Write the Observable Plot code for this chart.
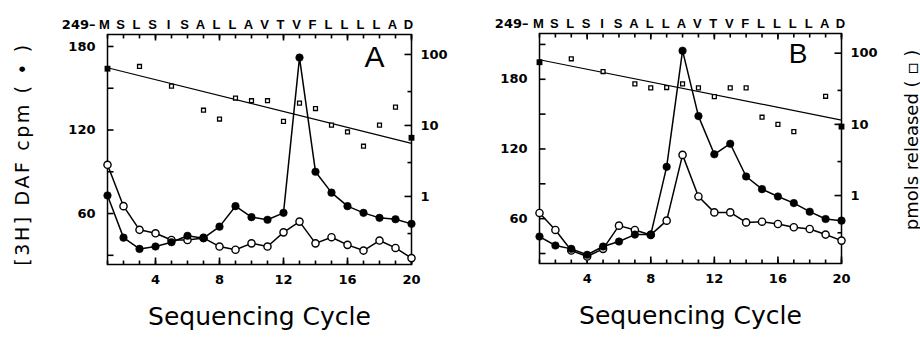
<!DOCTYPE html>
<html><head><meta charset="utf-8">
<script src="https://cdn.jsdelivr.net/npm/d3@7"></script>
<script src="https://cdn.jsdelivr.net/npm/@observablehq/plot@0.6"></script>
<style>
body{margin:0;background:#fff;}
#wrap{position:relative;width:920px;height:345px;overflow:hidden;background:#fff;}
#wrap svg{position:absolute;left:0;top:0;}
.ytitle{position:absolute;white-space:nowrap;transform:translate(-50%,-50%) rotate(-90deg);font-family:"DejaVu Sans";font-size:18px;color:#000;}
g[aria-label="seqstart"] text{letter-spacing:2px;}
g[aria-label="xtitle"] text{letter-spacing:1px;}
</style></head><body><div id="wrap"></div>
<script>
// ---- data ----
const cycles = [1,2,3,4,5,6,7,8,9,10,11,12,13,14,15,16,17,18,19,20];
const sequence = ["M","S","L","S","I","S","A","L","L","A","V","T","V","F","L","L","L","L","A","D"];
const seqStart = "249–";
const xMajorTicks = [4,8,12,16,20];
const leftTicks = [30,60,90,120,150,180,210];
const leftLabels = [60,120,180];
const rightTicks = [1,10,100];
const rightMinorTicks = [0.3,3,30];
const xTitle = "Sequencing Cycle";
const leftTitle = "[3H] DAF cpm ( • )";
const rightTitle = "pmols released ( ▫ )";

// Panel A
const cpmA_filled = [73,42.7,34.6,36.3,39.4,44,42.3,50.6,65.3,57.4,55.5,60.5,172,90,75,65.3,60.5,56.9,55.9,52.6];
const cpmA_open   = [95,65.3,48.3,45.8,41,41,42.5,36.3,34,38.6,36.3,46.5,54.2,38.6,43,37.5,33.4,40.6,35.3,28];
const pmolA_cycles = [3,5,7,8,9,10,11,12,13,14,15,16,17,18,19];
const pmolA = [67.8,35.8,16.4,12.3,24.3,22.3,22.3,11.4,20.6,17.3,10.1,8.1,5.1,10.1,18.1];
const pmolA_endCycles = [1,20];
const pmolA_end = [63,6.7];
const fitA_cycles = [1,20];
const fitA = [65,5.6];

// Panel B
const cpmB_filled = [44.6,36.9,34,28.9,36,40.3,46.3,46.3,104.6,204.6,148.3,115.4,124.5,96.3,85.4,79.1,73.4,66,59.7,58.3];
const cpmB_open   = [64.9,50.3,32.6,27.4,34,54,50.3,46,58.3,114.9,79.1,65.4,65.4,56.8,57.4,55.4,52.6,51.1,46.3,41.1];
const pmolB_cycles = [3,5,7,8,9,10,11,12,13,14,15,16,17,19];
const pmolB = [83.4,55.2,37.1,32.6,32.9,37.1,32.6,24.5,32.6,32.6,12.6,10,7.9,24.8];
const pmolB_endCycles = [1,20];
const pmolB_end = [74.6,9.3];
const fitB_cycles = [1,20];
const fitB = [80.8,11.5];

// ---- drawing ----
const W = 920, H = 345;
const wrap = document.getElementById("wrap");
const baseStyle = {background:"transparent", fontFamily:"DejaVu Sans", fontSize:"13px", fontWeight:"bold", overflow:"visible", color:"#000"};
const tk = {stroke: "#000", strokeWidth: 1.6};
const xDomain = [1, 20];

function linearPlot(p) {
  const [d0, d1] = p.linDomain;
  const upp = (d1 - d0) / (p.bottom - p.top);
  const xpp = (xDomain[1] - xDomain[0]) / (p.right - p.left);
  const lt = leftTicks.filter(v => v >= d0 && v <= d1);
  return Plot.plot({
    width: W, height: H,
    marginLeft: p.left, marginRight: W - p.right, marginTop: p.top, marginBottom: H - p.bottom,
    style: baseStyle,
    x: {domain: xDomain, label: null},
    y: {domain: p.linDomain, label: null},
    marks: [
      Plot.axisX(xMajorTicks, {anchor: "bottom", tickSize: 0, tickPadding: 10, label: null}),
      Plot.axisY(leftLabels, {anchor: "left", tickSize: 0, tickPadding: 12, label: null}),
      Plot.frame({stroke: "#000", strokeWidth: 1.5}),
      Plot.link(cycles, {x1: d => d, x2: d => d, y1: () => d0, y2: () => d0 + 4 * upp, ...tk}),
      Plot.link(xMajorTicks, {x1: d => d, x2: d => d, y1: () => d0, y2: () => d0 + 7 * upp, ...tk}),
      Plot.link(cycles, {x1: d => d, x2: d => d, y1: () => d1, y2: () => d1 - 4 * upp, ...tk}),
      Plot.link(xMajorTicks, {x1: d => d, x2: d => d, y1: () => d1, y2: () => d1 - 6 * upp, ...tk}),
      Plot.link(lt, {y1: d => d, y2: d => d, x1: () => xDomain[0], x2: () => xDomain[0] + 6 * xpp, ...tk}),
      Plot.line(cycles, {x: d => d, y: (d, i) => p.open[i], stroke: "#000", strokeWidth: 1.5}),
      Plot.dot(cycles, {x: d => d, y: (d, i) => p.open[i], r: 3.6, fill: "#fff", stroke: "#000", strokeWidth: 1.4}),
      Plot.line(cycles, {x: d => d, y: (d, i) => p.filled[i], stroke: "#000", strokeWidth: 1.5}),
      Plot.dot(cycles, {x: d => d, y: (d, i) => p.filled[i], r: 3.8, fill: "#000", stroke: "#000", strokeWidth: 0.5}),
      Plot.text(sequence, {x: (d, i) => cycles[i], text: d => d, frameAnchor: "top", dy: -15, dx: p.seqDx, fontFamily: "Liberation Sans", fontSize: 13, fontWeight: "bold"}),
      Plot.text([seqStart], {text: d => d, frameAnchor: "top-left", textAnchor: "end", dx: p.startDx, dy: -15, fontFamily: "DejaVu Sans", fontSize: 13, fontWeight: "bold", ariaLabel: "seqstart"}),
      Plot.text([p.letter], {text: d => d, frameAnchor: "top-right", lineAnchor: "top", dx: p.letterDx, dy: p.letterDy, fontFamily: "Liberation Sans", fontSize: p.letterSize, fontWeight: "normal"}),
      Plot.text([xTitle], {text: d => d, frameAnchor: "bottom", dy: 60, fontFamily: "DejaVu Sans", fontSize: 25, fontWeight: "normal", ariaLabel: "xtitle"})
    ]
  });
}

function logPlot(p) {
  const xpp = (xDomain[1] - xDomain[0]) / (p.right - p.left);
  return Plot.plot({
    width: W, height: H,
    marginLeft: p.left, marginRight: W - p.right, marginTop: p.top, marginBottom: H - p.bottom,
    style: baseStyle,
    x: {domain: xDomain, label: null, axis: null},
    y: {type: "log", domain: p.logDomain, label: null},
    marks: [
      Plot.link(rightMinorTicks, {y1: d => d, y2: d => d, x1: () => xDomain[1], x2: () => xDomain[1] - 4 * xpp, ...tk}),
      Plot.link(rightTicks, {y1: d => d, y2: d => d, x1: () => xDomain[1], x2: () => xDomain[1] - 7 * xpp, ...tk}),
      Plot.axisY(rightTicks, {anchor: "right", tickSize: 0, tickPadding: 9, label: null, tickFormat: d => String(d)}),
      Plot.line(p.fitCycles, {x: d => d, y: (d, i) => p.fit[i], stroke: "#000", strokeWidth: 1.2}),
      Plot.dot(p.pmolCycles, {x: d => d, y: (d, i) => p.pmol[i], symbol: "square", r: 2.2, fill: "#fff", stroke: "#000", strokeWidth: 1.3}),
      Plot.dot(p.endCycles, {x: d => d, y: (d, i) => p.end[i], symbol: "square", r: 3.3, fill: "#000", stroke: "none"})
    ]
  });
}

const panels = [
  {left: 107, right: 411, top: 34, bottom: 264, linDomain: [23.4, 188.6], logDomain: [0.11, 191],
   filled: cpmA_filled, open: cpmA_open, pmolCycles: pmolA_cycles, pmol: pmolA, endCycles: pmolA_endCycles, end: pmolA_end,
   fitCycles: fitA_cycles, fit: fitA, letter: "A", letterDx: -27, letterDy: 11, letterSize: 30, seqDx: -3, startDx: -12},
  {left: 539, right: 841, top: 33, bottom: 263, linDomain: [21.4, 219.4], logDomain: [0.111, 189],
   filled: cpmB_filled, open: cpmB_open, pmolCycles: pmolB_cycles, pmol: pmolB, endCycles: pmolB_endCycles, end: pmolB_end,
   fitCycles: fitB_cycles, fit: fitB, letter: "B", letterDx: -34, letterDy: 10, letterSize: 28, seqDx: -1, startDx: -11}
];

for (const p of panels) {
  wrap.appendChild(logPlot(p));
  wrap.appendChild(linearPlot(p));
}

function addTitle(text, x, y, size, spacing) {
  const d = document.createElement("div");
  d.className = "ytitle";
  d.textContent = text;
  d.style.left = x + "px";
  d.style.top = y + "px";
  d.style.fontSize = size + "px";
  d.style.letterSpacing = spacing + "px";
  wrap.appendChild(d);
}
addTitle(leftTitle, 22, 154, 19, 2.6);
addTitle(rightTitle, 911, 140, 18, 0);
</script>
</body></html>
